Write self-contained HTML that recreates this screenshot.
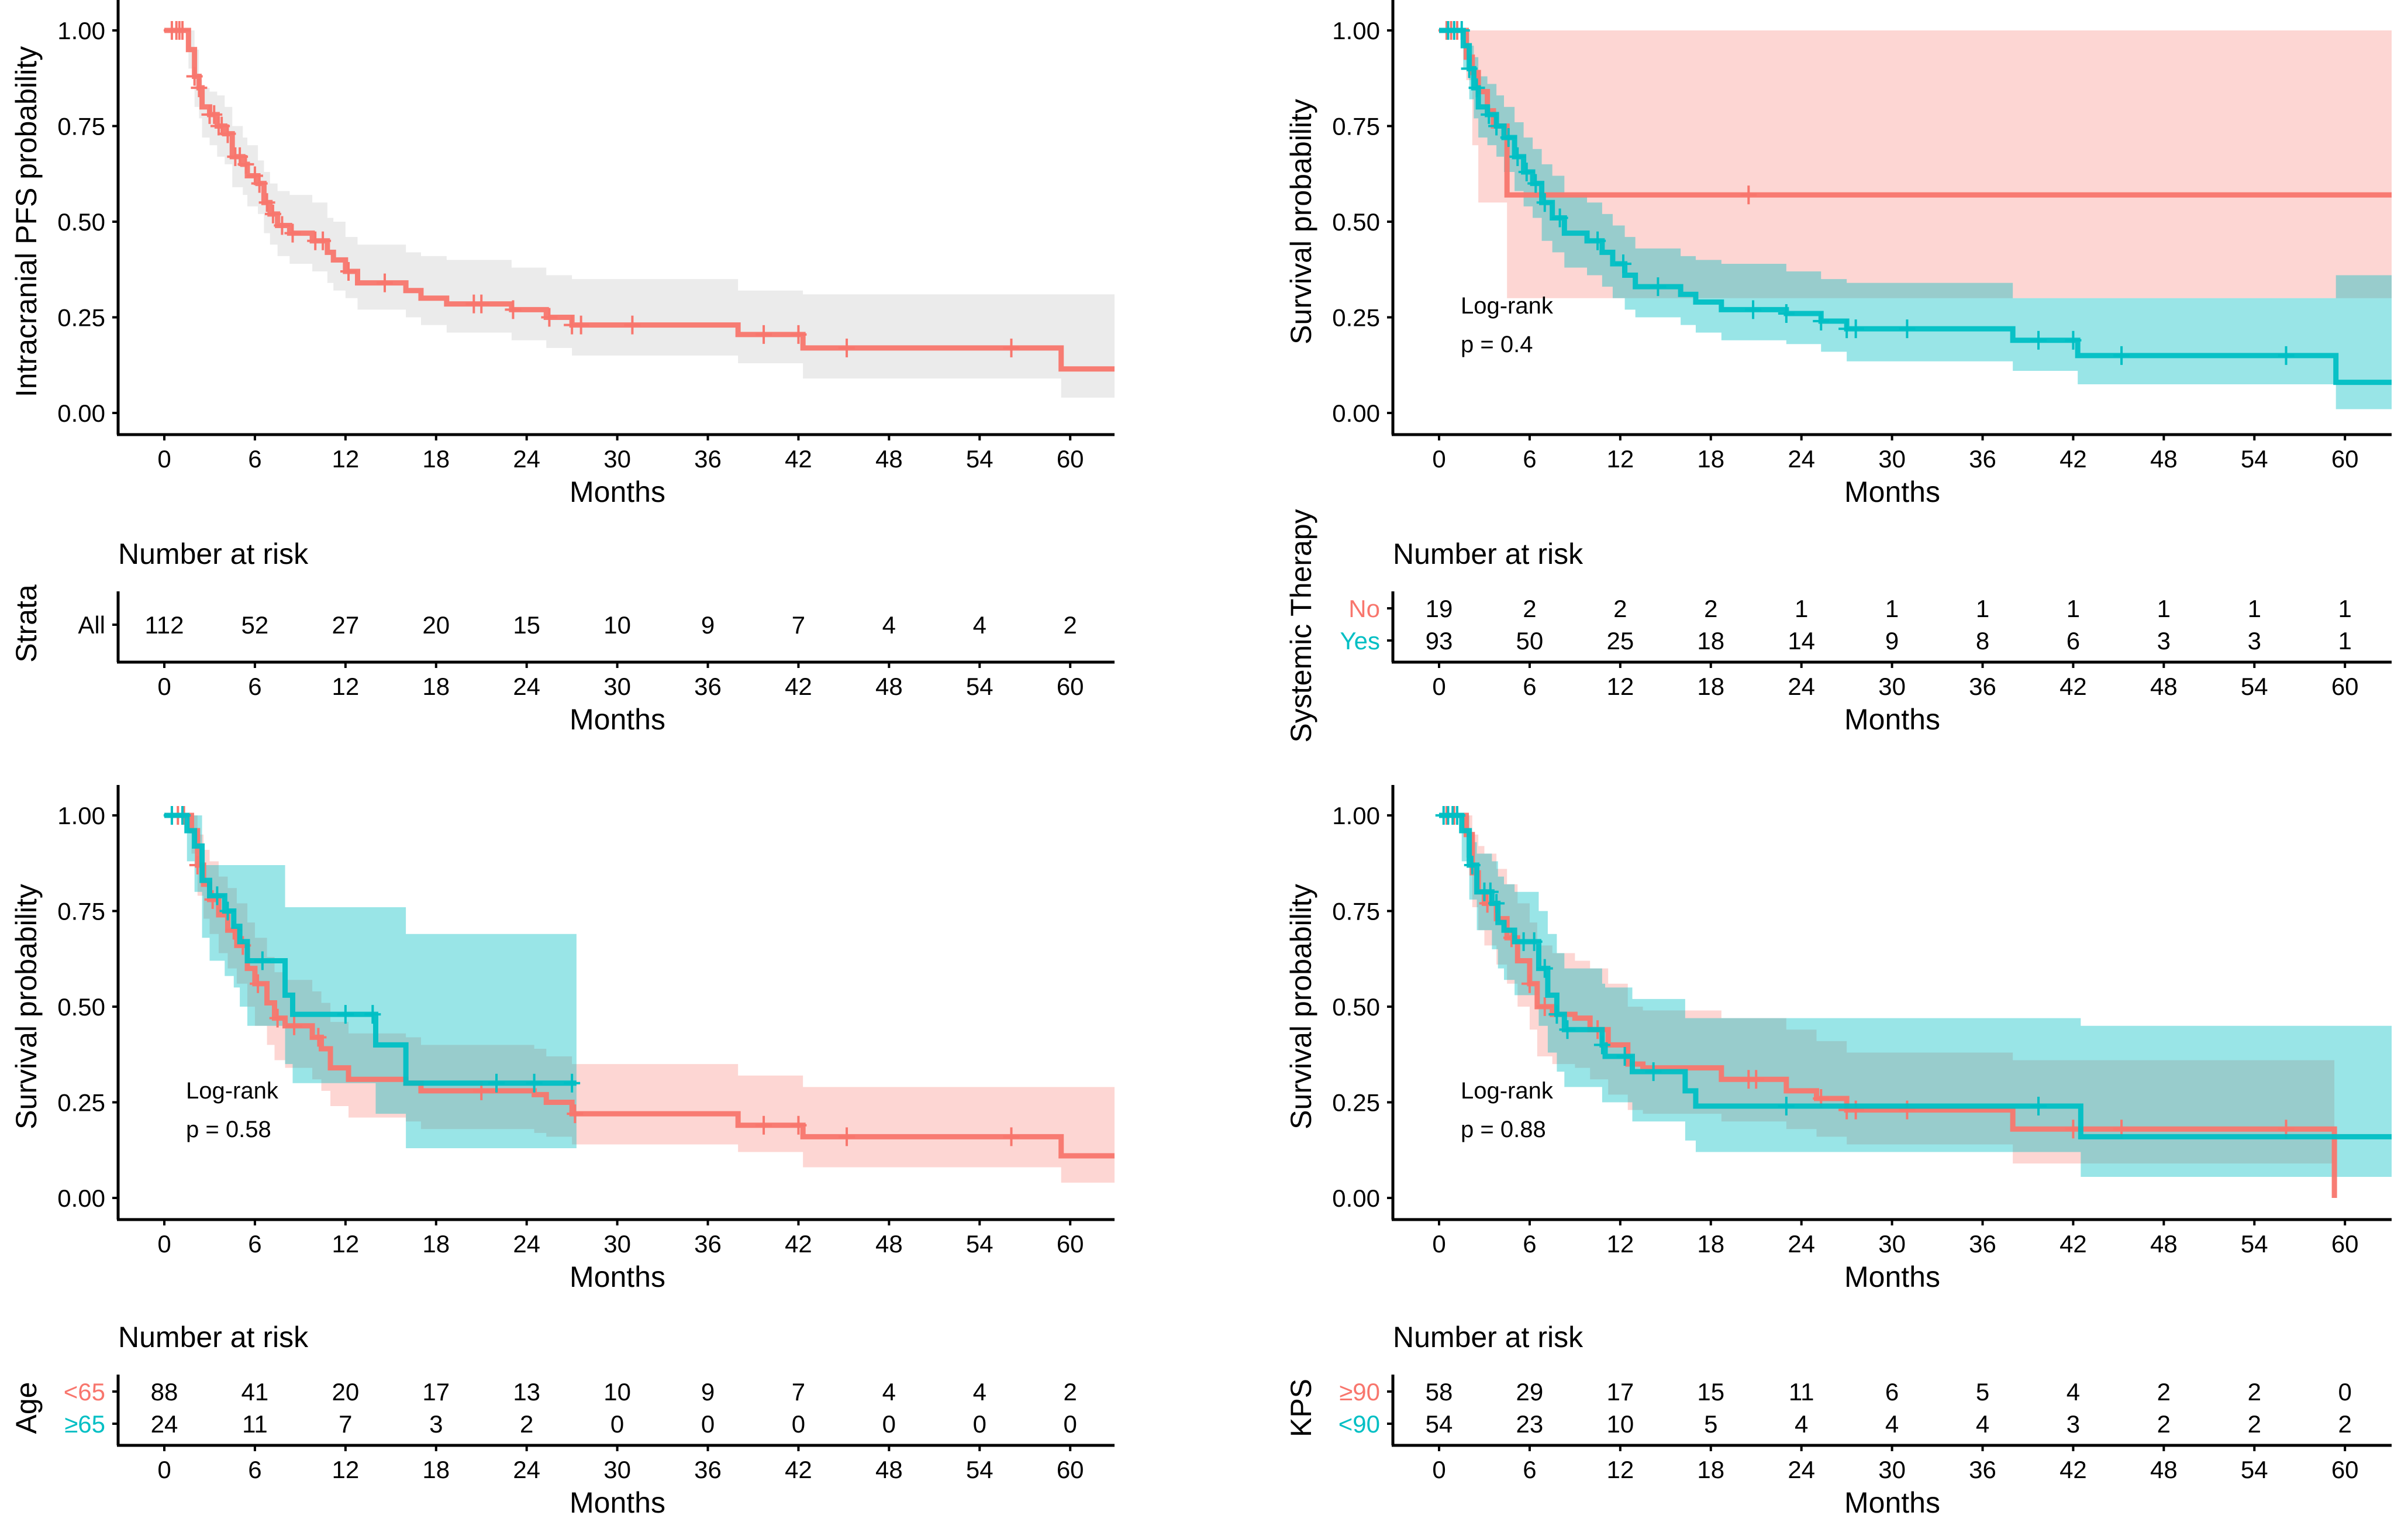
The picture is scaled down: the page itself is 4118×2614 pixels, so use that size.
<!DOCTYPE html>
<html><head><meta charset="utf-8"><style>
html,body{margin:0;padding:0;background:#fff;}
svg{display:block;}
text{font-family:"Liberation Sans",sans-serif;}
</style></head><body>
<svg id="fig" width="4118" height="2614" viewBox="0 0 4118 2614" xmlns="http://www.w3.org/2000/svg"></svg>
<script>
const monthTicks = [0,6,12,18,24,30,36,42,48,54,60];
const probTicks = [0,0.25,0.5,0.75,1];
const probLabels = ["0.00","0.25","0.50","0.75","1.00"];

// Panel A: all patients, intracranial PFS
const aTimes = [0,1.6,2.0,2.3,2.5,3.0,3.5,4.0,4.5,5.2,5.5,6.2,6.6,7.0,7.5,8.3,9.8,10.8,11.2,12.0,12.8,16.0,17.0,18.7,23.0,25.3,27.0,38.0,42.3,59.4];
const aSurv  = [1,0.95,0.88,0.85,0.80,0.78,0.75,0.73,0.67,0.65,0.62,0.60,0.55,0.52,0.49,0.47,0.45,0.42,0.40,0.37,0.34,0.32,0.30,0.285,0.27,0.25,0.23,0.205,0.17,0.115];
const aUpper = [1,1,0.95,0.87,0.85,0.84,0.83,0.80,0.75,0.72,0.70,0.66,0.63,0.60,0.58,0.57,0.55,0.51,0.50,0.46,0.44,0.42,0.41,0.40,0.38,0.36,0.35,0.32,0.31,0.31];
const aLower = [1,0.9,0.8,0.77,0.72,0.70,0.67,0.65,0.59,0.57,0.54,0.52,0.47,0.44,0.41,0.39,0.37,0.34,0.32,0.30,0.27,0.25,0.23,0.21,0.19,0.17,0.15,0.13,0.09,0.04];
const aCensor = [0.5,0.8,1.0,1.2,2.0,2.3,3.0,3.3,3.6,3.8,4.2,4.7,5.0,5.4,6.0,6.3,6.8,7.2,7.8,8.5,10.0,10.5,12.2,14.6,20.5,21.0,23.1,25.5,27.0,27.6,31.0,39.7,42.0,45.2,56.1];
const aRisk = [112,52,27,20,15,10,9,7,4,4,2];

// Panel B: systemic therapy
const bNoTimes = [0,1.8,2.2,2.6,3.2,3.6,4.5];
const bNoSurv  = [1,0.93,0.89,0.84,0.79,0.75,0.57];
const bNoUpper = [1,1,1,1,1,1,1];
const bNoLower = [1,0.87,0.70,0.55,0.55,0.55,0.30];
const bNoCensor = [0.5,0.8,1.2,20.5];
const bYesTimes = [0,1.6,2.0,2.3,2.6,3.2,3.8,4.3,5.0,5.6,6.2,6.8,7.5,8.3,9.8,10.8,11.5,12.3,13.0,16.0,17.0,18.7,23.0,25.3,27.0,38.0,42.3,59.4];
const bYesSurv  = [1,0.96,0.90,0.85,0.80,0.78,0.75,0.72,0.67,0.63,0.60,0.55,0.51,0.47,0.45,0.42,0.39,0.36,0.33,0.31,0.29,0.27,0.26,0.24,0.22,0.19,0.15,0.08];
const bYesUpper = [1,1,0.96,0.93,0.88,0.86,0.83,0.80,0.76,0.72,0.69,0.65,0.62,0.57,0.55,0.52,0.49,0.46,0.43,0.41,0.40,0.39,0.37,0.35,0.34,0.30,0.30,0.36];
const bYesLower = [1,0.9,0.82,0.77,0.72,0.70,0.67,0.63,0.58,0.54,0.51,0.45,0.42,0.38,0.36,0.33,0.30,0.27,0.25,0.23,0.21,0.19,0.18,0.16,0.135,0.11,0.075,0.01];
const bYesCensor = [0.6,1.0,1.5,2.0,2.5,3.3,3.8,4.6,5.2,5.8,6.4,7.0,8.0,10.5,12.2,14.5,20.8,23.0,25.3,27.0,27.6,31.0,39.7,42.0,45.2,56.1];
const bNoRisk = [19,2,2,2,1,1,1,1,1,1,1];
const bYesRisk = [93,50,25,18,14,9,8,6,3,3,1];

// Panel C: age
const cOldTimes = [0,1.5,2.0,2.5,3.0,4.0,4.6,5.0,5.5,8.0,8.5,14.0,16.0];
const cOldSurv  = [1,0.96,0.92,0.83,0.79,0.75,0.71,0.67,0.62,0.53,0.48,0.40,0.30];
const cOldUpper = [1,1,1,0.87,0.87,0.87,0.87,0.87,0.87,0.76,0.76,0.76,0.69];
const cOldLower = [1,0.88,0.8,0.68,0.62,0.58,0.55,0.50,0.45,0.35,0.30,0.22,0.13];
const cOldCensor = [0.5,1.2,3.5,4.2,6.5,12.0,13.8,22.0,24.5,27.0];
const cYoungTimes = [0,1.8,2.2,2.6,3.0,3.6,4.2,4.8,5.5,6.0,6.8,7.3,8.0,9.8,10.4,11.0,12.2,16.0,17.0,24.5,25.3,27.0,38.0,42.3,59.4];
const cYoungSurv  = [1,0.96,0.87,0.82,0.78,0.74,0.70,0.66,0.60,0.56,0.51,0.47,0.45,0.42,0.39,0.34,0.31,0.30,0.28,0.27,0.25,0.22,0.19,0.16,0.11];
const cYoungUpper = [1,1,0.95,0.91,0.88,0.84,0.81,0.77,0.72,0.68,0.63,0.59,0.57,0.54,0.51,0.46,0.43,0.42,0.40,0.39,0.37,0.35,0.32,0.29,0.29];
const cYoungLower = [1,0.9,0.79,0.73,0.69,0.64,0.60,0.56,0.50,0.45,0.40,0.36,0.34,0.31,0.28,0.24,0.21,0.20,0.18,0.17,0.16,0.14,0.12,0.08,0.04];
const cYoungCensor = [0.5,0.9,1.3,2.2,3.2,4.6,5.2,6.2,7.5,8.6,10.2,21.0,27.2,39.7,42.0,45.2,56.1];
const cYoungRisk = [88,41,20,17,13,10,9,7,4,4,2];
const cOldRisk = [24,11,7,3,2,0,0,0,0,0,0];

// Panel D: KPS
const dHiTimes = [0,1.8,2.2,2.6,3.0,3.8,4.5,5.2,6.0,6.5,7.5,9.0,10.0,11.2,12.5,13.5,18.7,23.0,25.0,27.0,38.0,59.3];
const dHiSurv  = [1,0.95,0.85,0.80,0.77,0.73,0.68,0.62,0.56,0.50,0.48,0.47,0.44,0.40,0.35,0.34,0.31,0.28,0.26,0.23,0.18,0];
const dHiUpper = [1,1,0.95,0.92,0.90,0.86,0.82,0.77,0.72,0.66,0.64,0.62,0.60,0.56,0.50,0.49,0.47,0.44,0.41,0.38,0.36,0.36];
const dHiLower = [1,0.89,0.76,0.70,0.66,0.61,0.56,0.50,0.44,0.37,0.35,0.34,0.31,0.27,0.23,0.22,0.20,0.18,0.16,0.14,0.09,0.09];
const dHiCensor = [0.5,1.0,3.2,4.8,6.0,7.0,10.5,20.5,21.0,25.3,27.0,27.6,31.0,42.0,45.2,56.1];
const dLoTimes = [0,1.5,2.0,2.5,3.5,3.9,4.3,5.0,6.6,7.2,7.8,8.3,10.8,11.0,12.8,16.3,17.0,42.5];
const dLoSurv  = [1,0.96,0.87,0.80,0.77,0.72,0.70,0.67,0.60,0.53,0.48,0.44,0.40,0.37,0.33,0.28,0.24,0.16];
const dLoUpper = [1,1,0.93,0.90,0.88,0.84,0.82,0.80,0.75,0.69,0.64,0.60,0.56,0.55,0.52,0.47,0.47,0.45];
const dLoLower = [1,0.88,0.78,0.70,0.65,0.60,0.57,0.53,0.45,0.38,0.33,0.29,0.25,0.25,0.20,0.15,0.12,0.055];
const dLoCensor = [0.3,0.6,0.9,1.2,2.2,3.0,3.4,3.8,5.6,6.3,7.0,7.8,8.5,10.8,12.3,14.2,23.0,39.7];
const dHiRisk = [58,29,17,15,11,6,5,4,2,2,0];
const dLoRisk = [54,23,10,5,4,4,4,3,2,2,2];

const RED = "#F8766D", TEAL = "#00BFC4";
const NS = "http://www.w3.org/2000/svg";
const svg = document.getElementById("fig");
const PPM = 25.82, PPU = 654;

function el(tag, attrs, parent){
  const e = document.createElementNS(NS, tag);
  for (const k in attrs) e.setAttribute(k, attrs[k]);
  (parent||svg).appendChild(e);
  return e;
}
function txt(s, x, y, size, anchor, fill, parent){
  const t = el("text", {x:x, y:y, "font-size":size, "text-anchor":anchor||"start", fill:fill||"#000"}, parent);
  t.textContent = s;
  return t;
}
function stepAt(times, vals, t){
  let v = vals[0];
  for (let i=0;i<times.length;i++){ if (times[i] <= t) v = vals[i]; }
  return v;
}

function panel(p){
  const g = el("g", {});
  
  
  const xs = m => p.ox + m*PPM;
  const ys = s => p.oy0 - s*PPU;
  const axX = p.ox - 79, axEnd = p.axEnd, axY = p.oy0 + 37;
  const endM = (axEnd - p.ox)/PPM;

  p.series.forEach(s => {
    let d = "";
    const n = s.times.length;
    const e = s.end === null ? endM : s.end;
    for (let i=0;i<n;i++){
      const x0 = xs(s.times[i]), x1 = xs(i<n-1 ? s.times[i+1] : e);
      d += (i===0?"M":"L")+x0+","+ys(s.upper[i])+" L"+x1+","+ys(s.upper[i])+" ";
    }
    for (let i=n-1;i>=0;i--){
      const x0 = xs(s.times[i]), x1 = xs(i<n-1 ? s.times[i+1] : e);
      d += "L"+x1+","+ys(s.lower[i])+" L"+x0+","+ys(s.lower[i])+" ";
    }
    const r = el("path", {d:d+"Z", fill:s.ribbon, "fill-opacity":s.ribbonOp, stroke:"none"}, g);
    
    
  });
  p.series.forEach(s => {
    const e = s.end === null ? endM : s.end;
    let d = "M"+xs(s.times[0])+","+ys(s.surv[0]);
    const n = s.times.length;
    for (let i=1;i<n;i++){
      d += " L"+xs(s.times[i])+","+ys(s.surv[i-1])+" L"+xs(s.times[i])+","+ys(s.surv[i]);
    }
    d += " L"+xs(e)+","+ys(s.surv[n-1]);
    const l = el("path", {d:d, fill:"none", stroke:s.color, "stroke-width":9, "stroke-opacity":0.95}, g);
    
    
    s.censor.forEach(t => {
      const cx = xs(t), cy = ys(stepAt(s.times, s.surv, t));
      const c = el("path", {d:"M"+(cx-14)+","+cy+" L"+(cx+14)+","+cy+" M"+cx+","+(cy-16)+" L"+cx+","+(cy+16), stroke:s.color, "stroke-width":4, fill:"none"}, g);
      
      
    });
  });
  el("line", {x1:axX, y1:p.oy0-PPU-52, x2:axX, y2:axY, stroke:"#000", "stroke-width":5}, g);
  el("line", {x1:axX-2, y1:axY, x2:axEnd, y2:axY, stroke:"#000", "stroke-width":5}, g);
  probTicks.forEach((v,i) => {
    el("line", {x1:axX-10, y1:ys(v), x2:axX, y2:ys(v), stroke:"#000", "stroke-width":4}, g);
    const t = txt(probLabels[i], axX-22, ys(v)+15, 42, "end", "#000", g);
    
    
  });
  monthTicks.forEach(m => {
    el("line", {x1:xs(m), y1:axY, x2:xs(m), y2:axY+10, stroke:"#000", "stroke-width":4}, g);
    const t = txt(String(m), xs(m), axY+56, 42, "middle", "#000", g);
    
    
  });
  const xt = txt("Months", p.ox+775, axY+115, 50, "middle", "#000", g);
  
  
  const yt = txt(p.ytitle, 0, 0, 50, "middle", "#000", g);
  yt.setAttribute("transform", "translate("+(axX-140)+","+(p.oy0-PPU/2)+") rotate(-90)");
  
  
  if (p.pval){
    const a = txt("Log-rank", p.ox+37, p.oy0-PPU*0.26, 40, "start", "#000", g);
    
    
    const b = txt(p.pval, p.ox+37, p.oy0-PPU*0.26+66, 40, "start", "#000", g);
    
    
  }

  const rt = el("g", {}, svg);
  
  
  const rAx = p.riskAxisY;
  const h = txt("Number at risk", axX, rAx-168, 50, "start", "#000", rt);
  
  
  el("line", {x1:axX, y1:rAx-121, x2:axX, y2:rAx, stroke:"#000", "stroke-width":5}, rt);
  el("line", {x1:axX-2, y1:rAx, x2:axEnd, y2:rAx, stroke:"#000", "stroke-width":5}, rt);
  p.risk.forEach(row => {
    el("line", {x1:axX-10, y1:row.y, x2:axX, y2:row.y, stroke:"#000", "stroke-width":4}, rt);
    const lb = txt(row.label, axX-22, row.y+15, 42, "end", row.color, rt);
    
    
    row.vals.forEach((v,i) => {
      const c = txt(String(v), xs(monthTicks[i]), row.y+15, 42, "middle", "#000", rt);
      
      
    });
  });
  monthTicks.forEach(m => {
    el("line", {x1:xs(m), y1:rAx, x2:xs(m), y2:rAx+10, stroke:"#000", "stroke-width":4}, rt);
    const t = txt(String(m), xs(m), rAx+56, 42, "middle", "#000", rt);
    
    
  });
  const rx = txt("Months", p.ox+775, rAx+115, 50, "middle", "#000", rt);
  
  
  const rs = txt(p.strata, 0, 0, 50, "middle", "#000", rt);
  rs.setAttribute("transform", "translate("+(axX-140)+","+p.strataY+") rotate(-90)");
  
  
}

panel({name:"pfs-all-panel", ox:281, oy0:706, axEnd:1906, ytitle:"Intracranial PFS probability",
  series:[{key:"all", times:aTimes, surv:aSurv, upper:aUpper, lower:aLower, censor:aCensor, end:null, color:RED, ribbon:"#e6e6e6", ribbonOp:0.8}],
  riskAxisY:1132, strata:"Strata", strataY:1066,
  risk:[{label:"All", color:"#000", y:1068, vals:aRisk}]});

panel({name:"systemic-therapy-panel", ox:2461, oy0:706, axEnd:4090, ytitle:"Survival probability", pval:"p = 0.4",
  series:[
    {key:"no-therapy", times:bNoTimes, surv:bNoSurv, upper:bNoUpper, lower:bNoLower, censor:bNoCensor, end:null, color:RED, ribbon:RED, ribbonOp:0.3},
    {key:"yes-therapy", times:bYesTimes, surv:bYesSurv, upper:bYesUpper, lower:bYesLower, censor:bYesCensor, end:null, color:TEAL, ribbon:TEAL, ribbonOp:0.4}],
  riskAxisY:1132, strata:"Systemic Therapy", strataY:1070,
  risk:[{label:"No", color:RED, y:1040, vals:bNoRisk},{label:"Yes", color:TEAL, y:1095, vals:bYesRisk}]});

panel({name:"age-panel", ox:281, oy0:2048, axEnd:1906, ytitle:"Survival probability", pval:"p = 0.58",
  series:[
    {key:"age-under-65", times:cYoungTimes, surv:cYoungSurv, upper:cYoungUpper, lower:cYoungLower, censor:cYoungCensor, end:null, color:RED, ribbon:RED, ribbonOp:0.3},
    {key:"age-65-plus", times:cOldTimes, surv:cOldSurv, upper:cOldUpper, lower:cOldLower, censor:cOldCensor, end:27.3, color:TEAL, ribbon:TEAL, ribbonOp:0.4}],
  riskAxisY:2471, strata:"Age", strataY:2407,
  risk:[{label:"<65", color:RED, y:2379, vals:cYoungRisk},{label:"≥65", color:TEAL, y:2434, vals:cOldRisk}]});

panel({name:"kps-panel", ox:2461, oy0:2048, axEnd:4090, ytitle:"Survival probability", pval:"p = 0.88",
  series:[
    {key:"kps-90-plus", times:dHiTimes, surv:dHiSurv, upper:dHiUpper, lower:dHiLower, censor:dHiCensor, end:59.3, color:RED, ribbon:RED, ribbonOp:0.3},
    {key:"kps-under-90", times:dLoTimes, surv:dLoSurv, upper:dLoUpper, lower:dLoLower, censor:dLoCensor, end:null, color:TEAL, ribbon:TEAL, ribbonOp:0.4}],
  riskAxisY:2471, strata:"KPS", strataY:2407,
  risk:[{label:"≥90", color:RED, y:2379, vals:dHiRisk},{label:"<90", color:TEAL, y:2434, vals:dLoRisk}]});
</script>
</body></html>
